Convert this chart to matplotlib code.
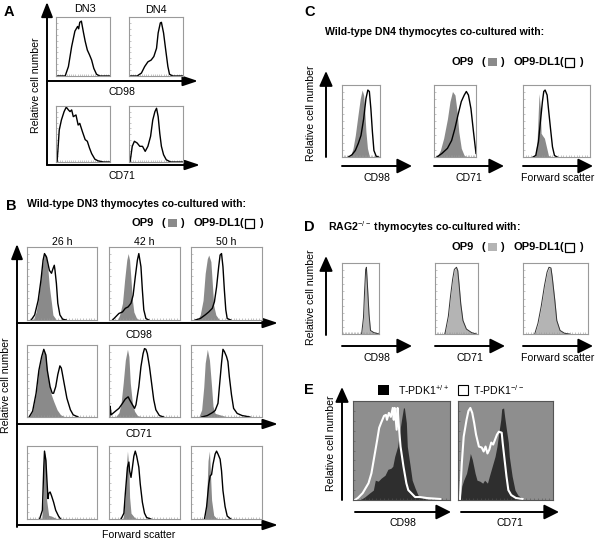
import matplotlib
matplotlib.use("Agg")
import matplotlib.pyplot as plt
from matplotlib.patches import Rectangle

plt.rcParams['font.family'] = ['Liberation Sans', 'DejaVu Sans']
plt.rcParams['mathtext.fontset'] = 'custom'
plt.rcParams['mathtext.rm'] = 'Liberation Sans'
plt.rcParams['mathtext.bf'] = 'Liberation Sans:bold'

# ---- data: channel (0-100) and relative cell number (% of box height) ----
# A
a_dn3_cd98_x = [0, 17, 23, 29, 35, 40, 42, 44, 47, 51, 54, 58, 62, 66, 70, 75, 81, 100]
a_dn3_cd98_y = [0, 0, 16, 50, 76, 84, 80, 91, 93, 73, 59, 44, 36, 27, 13, 3, 0, 0]
a_dn4_cd98_x = [0, 15, 23, 29, 35, 41, 46, 51, 54, 58, 60, 64, 68, 72, 75, 81, 100]
a_dn4_cd98_y = [0, 0, 5, 16, 24, 27, 33, 47, 73, 90, 91, 73, 44, 16, 3, 0, 0]
a_dn3_cd71_x = [0, 2, 4, 6, 10, 15, 19, 23, 26, 29, 32, 37, 41, 44, 49, 54, 58, 62, 66, 72, 78, 88, 100]
a_dn3_cd71_y = [0, 0, 28, 57, 75, 90, 98, 93, 90, 93, 81, 84, 66, 69, 54, 40, 37, 25, 15, 5, 2, 0, 0]
a_dn4_cd71_x = [0, 2, 6, 10, 15, 20, 25, 30, 35, 40, 44, 48, 51, 54, 57, 60, 64, 69, 77, 100]
a_dn4_cd71_y = [0, 0, 28, 37, 34, 28, 28, 19, 28, 46, 75, 90, 96, 81, 51, 28, 13, 4, 0, 0]

# B, CD98
b26_cd98_op9_x = [9, 13, 17, 20, 23, 25, 27, 30, 32, 35, 37, 42]
b26_cd98_op9_y = [0, 11, 32, 59, 80, 91, 89, 68, 45, 23, 7, 0]
b26_cd98_dl1_x = [6, 11, 16, 20, 23, 25, 28, 30, 32, 35, 37, 39, 40, 42, 44, 47, 51, 56]
b26_cd98_dl1_y = [0, 7, 27, 55, 82, 91, 86, 77, 68, 64, 70, 75, 68, 50, 23, 7, 1, 0]
b42_cd98_op9_x = [12, 15, 19, 22, 25, 27, 29, 31, 33, 35, 39, 45]
b42_cd98_op9_y = [0, 7, 23, 55, 82, 91, 82, 55, 27, 11, 2, 0]
b42_cd98_dl1_x = [5, 9, 14, 19, 23, 27, 31, 34, 37, 40, 42, 45, 47, 49, 52, 56]
b42_cd98_dl1_y = [0, 4, 9, 11, 16, 18, 23, 34, 59, 82, 91, 73, 41, 14, 2, 0]
b50_cd98_op9_x = [9, 13, 17, 20, 23, 25, 28, 30, 32, 35, 40]
b50_cd98_op9_y = [0, 7, 27, 64, 84, 89, 80, 50, 20, 7, 0]
b50_cd98_dl1_x = [6, 13, 20, 25, 30, 33, 36, 39, 41, 43, 45, 47, 49, 51, 56]
b50_cd98_dl1_y = [0, 2, 7, 11, 16, 25, 45, 73, 89, 91, 73, 41, 14, 2, 0]

# B, CD71
b26_cd71_op9_x = [3, 8, 13, 17, 21, 24, 27, 29, 34, 38, 43, 48, 55]
b26_cd71_op9_y = [0, 8, 33, 65, 84, 93, 84, 61, 33, 22, 10, 3, 0]
b26_cd71_dl1_x = [3, 8, 13, 17, 21, 24, 27, 29, 33, 36, 38, 41, 44, 47, 49, 50, 53, 57, 62, 66, 73]
b26_cd71_dl1_y = [0, 8, 33, 65, 84, 94, 86, 65, 42, 33, 33, 42, 59, 71, 68, 63, 47, 26, 10, 3, 0]
b42_cd71_op9_x = [9, 14, 17, 20, 23, 26, 28, 30, 33, 36, 40, 47]
b42_cd71_op9_y = [0, 6, 19, 47, 79, 94, 84, 47, 19, 8, 2, 0]
b42_cd71_dl1_x = [1, 1.5, 3, 9, 14, 19, 23, 27, 29, 33, 36, 38, 42, 45, 48, 50, 52, 54, 57, 60, 63, 66, 71, 77]
b42_cd71_dl1_y = [0, 15, 3, 8, 12, 19, 25, 28, 24, 17, 12, 17, 42, 70, 88, 95, 94, 88, 70, 47, 24, 10, 2, 0]
b50_cd71_op9_x = [11, 15, 18, 20, 23, 26, 29, 31, 34, 41, 48, 55]
b50_cd71_op9_y = [0, 10, 42, 75, 94, 79, 42, 15, 5, 3, 1, 0]
b50_cd71_dl1_x = [15, 23, 30, 34, 38, 40, 43, 45, 47, 50, 52, 54, 57, 60, 65, 72, 83]
b50_cd71_dl1_y = [0, 2, 6, 9, 19, 42, 75, 94, 91, 84, 77, 56, 31, 12, 5, 2, 0]

# B, forward scatter
b26_fs_op9_x = [21, 23, 24, 26, 27, 28, 31, 35, 39, 44]
b26_fs_op9_y = [0, 26, 80, 91, 80, 26, 5, 4, 2, 0]
b26_fs_dl1_x = [18, 22, 24, 25, 27, 29, 30, 31, 33, 35, 38, 41, 45, 48]
b26_fs_dl1_y = [0, 12, 71, 93, 80, 44, 28, 35, 37, 32, 23, 12, 4, 0]
b42_fs_op9_x = [20, 23, 25, 26, 28, 29, 31, 36, 40]
b42_fs_op9_y = [0, 30, 80, 93, 71, 30, 8, 2, 0]
b42_fs_dl1_x = [17, 21, 23, 26, 28, 29, 31, 33, 35, 37, 39, 42, 44, 47, 50, 53, 59]
b42_fs_dl1_y = [0, 8, 35, 71, 78, 66, 57, 71, 86, 93, 86, 71, 48, 23, 8, 2, 0]
b50_fs_op9_x = [20, 22, 24, 26, 27, 29, 32, 37]
b50_fs_op9_y = [0, 26, 80, 93, 71, 26, 5, 0]
b50_fs_dl1_x = [19, 22, 25, 27, 29, 31, 34, 36, 38, 41, 43, 45, 48, 51, 56]
b50_fs_dl1_y = [0, 17, 48, 59, 61, 75, 89, 93, 89, 82, 66, 39, 17, 4, 0]

# C
c_cd98_op9_x = [22, 29, 35, 42, 48, 53, 57, 60, 63, 67, 72, 78]
c_cd98_op9_y = [0, 12, 30, 58, 81, 93, 86, 63, 35, 12, 1, 0]
c_cd98_dl1_x = [17, 26, 35, 43, 50, 57, 63, 68, 72, 76, 80, 84, 90, 96]
c_cd98_dl1_y = [0, 3, 9, 19, 30, 53, 81, 93, 91, 67, 35, 9, 1, 0]
c_cd71_op9_x = [7, 15, 23, 32, 38, 44, 50, 55, 59, 65, 72, 82]
c_cd71_op9_y = [0, 9, 26, 53, 77, 91, 86, 63, 35, 12, 2, 0]
c_cd71_dl1_x = [7, 19, 32, 42, 50, 57, 65, 72, 77, 82, 88, 94, 100]
c_cd71_dl1_y = [0, 5, 12, 23, 40, 58, 77, 86, 91, 86, 67, 35, 5]
c_fs_op9_x = [18, 21, 23, 24, 26, 27, 29, 32, 35, 38, 44]
c_fs_op9_y = [0, 21, 67, 88, 67, 33, 30, 26, 14, 2, 0]
c_fs_dl1_x = [15, 19, 23, 26, 29, 31, 33, 36, 38, 41, 44, 47, 51]
c_fs_dl1_y = [0, 2, 21, 49, 77, 91, 93, 86, 67, 40, 14, 2, 0]

# D
d_cd98_op9_x = [53, 58, 61, 64, 66, 69, 73, 77, 86, 93, 100]
d_cd98_op9_y = [0, 24, 62, 90, 93, 67, 29, 5, 2, 1, 0]
d_cd98_dl1_x = [53, 58, 61, 64, 66, 69, 73, 77, 86, 93, 100]
d_cd98_dl1_y = [0, 23, 60, 91, 94, 66, 28, 5, 2, 1, 0]
d_cd71_op9_x = [23, 31, 36, 41, 45, 50, 53, 56, 60, 65, 73, 85, 96]
d_cd71_op9_y = [0, 24, 52, 76, 90, 94, 90, 71, 43, 19, 7, 2, 0]
d_cd71_dl1_x = [23, 31, 36, 41, 45, 50, 53, 56, 60, 65, 73, 85, 96]
d_cd71_dl1_y = [0, 25, 53, 77, 91, 94, 89, 70, 42, 19, 7, 2, 0]
d_fs_op9_x = [18, 23, 28, 33, 37, 40, 43, 45, 49, 52, 57, 64, 72]
d_fs_op9_y = [0, 14, 38, 67, 86, 93, 93, 81, 48, 19, 5, 1, 0]
d_fs_dl1_x = [18, 23, 28, 33, 37, 40, 43, 45, 49, 52, 57, 64, 72]
d_fs_dl1_y = [0, 15, 39, 68, 87, 94, 93, 80, 47, 19, 5, 1, 0]

# E
e_cd98_wt_x = [7, 12, 17, 21, 23, 26, 29, 33, 36, 39, 41, 43, 46, 48, 50, 52, 53, 55, 56, 59, 61, 64, 67, 72, 78]
e_cd98_wt_y = [0, 3, 7, 10, 20, 19, 22, 25, 31, 32, 34, 44, 54, 68, 81, 93, 93, 78, 54, 34, 20, 12, 5, 2, 0]
e_cd98_ko_x = [2, 5, 10, 16, 19, 22, 25, 27, 29, 32, 34, 35, 37, 39, 41, 42, 43, 45, 46, 47, 49, 52, 55, 57, 60, 64, 69, 76, 90]
e_cd98_ko_y = [0, 2, 7, 17, 27, 44, 61, 73, 78, 85, 86, 81, 88, 84, 93, 81, 93, 71, 93, 78, 54, 34, 17, 10, 7, 3, 3, 2, 1]
e_cd71_wt_x = [2, 4, 6, 9, 12, 13, 15, 18, 20, 23, 26, 28, 31, 33, 36, 39, 41, 43, 45, 46, 48, 49, 51, 53, 54, 57, 60, 63, 67, 70]
e_cd71_wt_y = [0, 14, 20, 27, 41, 47, 41, 27, 20, 19, 17, 20, 17, 24, 34, 44, 54, 68, 81, 92, 93, 85, 71, 58, 44, 24, 10, 5, 2, 0]
e_cd71_ko_x = [2, 4, 6, 9, 11, 13, 15, 17, 19, 22, 25, 27, 29, 31, 33, 35, 37, 39, 41, 43, 46, 47, 49, 51, 53, 56, 61, 68]
e_cd71_ko_y = [0, 37, 64, 81, 90, 93, 88, 78, 66, 54, 53, 49, 54, 47, 51, 58, 56, 61, 66, 69, 68, 58, 41, 24, 10, 5, 2, 1]

GRAY = '#8a8a8a'
LIGHT = '#b4b4b4'
E_BG = '#8e8e8e'
E_DARK = '#2e2e2e'
LBL = 7.6
BOLD = 7.6
LEG = 8.0

W, H = 596, 540
fig = plt.figure(figsize=(W / 100, H / 100), dpi=100)
ov = fig.add_axes([0, 0, 1, 1])
ov.set_xlim(0, W)
ov.set_ylim(H, 0)
ov.axis('off')


def box(x0, x1, y0, y1, bg='white', edge='#9a9a9a'):
    ax = fig.add_axes([x0 / W, 1 - y1 / H, (x1 - x0) / W, (y1 - y0) / H])
    ax.set_xlim(0, 100)
    ax.set_ylim(0, 100)
    ax.set_facecolor(bg)
    for s in ax.spines.values():
        s.set_color(edge)
        s.set_linewidth(0.8)
    ax.set_xticks(range(0, 101, 4))
    ax.set_yticks(range(0, 101, 10))
    ax.tick_params(direction='in', length=1.5, width=0.4, colors=edge,
                   labelbottom=False, labelleft=False)
    return ax


def hist(ax, fx, fy, lx, ly, fill=GRAY, line='k', lw=1.0):
    ax.fill_between(fx, fy, color=fill, lw=0)
    ax.plot(lx, ly, color=line, lw=lw)


def arrow(x0, y0, x1, y1, lw=1.4, hl=0.9, hw=0.35):
    ov.annotate('', xy=(x1, y1), xytext=(x0, y0),
                arrowprops=dict(arrowstyle='-|>,head_length=%s,head_width=%s' % (hl, hw),
                                lw=lw, color='k', shrinkA=0, shrinkB=0, mutation_scale=10))


def txt(x, y, s, size=LBL, **kw):
    ov.text(x, y, s, fontsize=size, ha=kw.pop('ha', 'center'), va=kw.pop('va', 'center'), **kw)


def op9_legend(x, y, fill):
    txt(x, y, 'OP9', LEG, weight='bold', ha='left')
    txt(x + 33, y, '(', LEG, weight='bold', ha='right')
    ov.add_patch(Rectangle((x + 36, y - 4), 9, 8, fc=fill, ec='none'))
    txt(x + 48, y, ')', LEG, weight='bold', ha='left')
    txt(x + 112, y, 'OP9-DL1(', LEG, weight='bold', ha='right')
    ov.add_patch(Rectangle((x + 113, y - 4.5), 9, 9, fc='white', ec='k', lw=0.9))
    txt(x + 127, y, ')', LEG, weight='bold', ha='left')


# ---------------- A ----------------
txt(4, 12, 'A', 10.5, weight='bold', ha='left')
txt(85, 9, 'DN3', 7.8)
txt(156, 10, 'DN4', 7.8)
arrow(47, 165, 47, 2)
arrow(47, 81, 198, 81, hw=0.3)
arrow(47, 165, 200, 165, hw=0.3)
txt(122, 92, 'CD98')
txt(122, 176, 'CD71')
txt(36, 85, 'Relative cell number', rotation=90)
for (x0, x1), (y0, y1), xs, ys in [
        ((56, 110), (17, 76), a_dn3_cd98_x, a_dn3_cd98_y),
        ((129, 183), (17, 76), a_dn4_cd98_x, a_dn4_cd98_y),
        ((56, 110), (106, 162), a_dn3_cd71_x, a_dn3_cd71_y),
        ((129, 183), (106, 162), a_dn4_cd71_x, a_dn4_cd71_y)]:
    ax = box(x0, x1, y0, y1)
    ax.plot(xs, ys, color='k', lw=1.0)

# ---------------- B ----------------
txt(6, 206, 'B', 10.5, weight='bold', ha='left')
txt(27, 204, 'Wild-type DN3 thymocytes co-cultured with:', BOLD, weight='bold', ha='left')
op9_legend(132, 223, GRAY)
b_cols = [(27, 97), (109, 180), (191, 262)]
b_rows = [(247, 320), (345, 417), (446, 519)]
for (x0, x1), s in zip(b_cols, ['26 h', '42 h', '50 h']):
    txt((x0 + x1) / 2, 242, s, 7.6)
arrow(17, 527, 17, 244)
for y, s, ty in [(323, 'CD98', 335), (424, 'CD71', 434), (525, 'Forward scatter', 535)]:
    arrow(17, y, 278, y, hw=0.3)
    txt(139, ty, s)
txt(6, 385, 'Relative cell number', rotation=90)
b_data = [
    [(b26_cd98_op9_x, b26_cd98_op9_y, b26_cd98_dl1_x, b26_cd98_dl1_y),
     (b42_cd98_op9_x, b42_cd98_op9_y, b42_cd98_dl1_x, b42_cd98_dl1_y),
     (b50_cd98_op9_x, b50_cd98_op9_y, b50_cd98_dl1_x, b50_cd98_dl1_y)],
    [(b26_cd71_op9_x, b26_cd71_op9_y, b26_cd71_dl1_x, b26_cd71_dl1_y),
     (b42_cd71_op9_x, b42_cd71_op9_y, b42_cd71_dl1_x, b42_cd71_dl1_y),
     (b50_cd71_op9_x, b50_cd71_op9_y, b50_cd71_dl1_x, b50_cd71_dl1_y)],
    [(b26_fs_op9_x, b26_fs_op9_y, b26_fs_dl1_x, b26_fs_dl1_y),
     (b42_fs_op9_x, b42_fs_op9_y, b42_fs_dl1_x, b42_fs_dl1_y),
     (b50_fs_op9_x, b50_fs_op9_y, b50_fs_dl1_x, b50_fs_dl1_y)]]
for (y0, y1), row in zip(b_rows, b_data):
    for (x0, x1), curves in zip(b_cols, row):
        hist(box(x0, x1, y0, y1), *curves)

# ---------------- C ----------------
txt(304, 12, 'C', 10.5, weight='bold', ha='left')
txt(325, 32, 'Wild-type DN4 thymocytes co-cultured with:', BOLD, weight='bold', ha='left')
op9_legend(452, 62, GRAY)
arrow(326, 157, 326, 71, hw=0.4)
txt(311, 113, 'Relative cell number', rotation=90)
c_boxes = [(342, 380), (434, 476), (523, 590)]
c_arrows = [(342, 412), (434, 504), (523, 593)]
c_data = [(c_cd98_op9_x, c_cd98_op9_y, c_cd98_dl1_x, c_cd98_dl1_y),
          (c_cd71_op9_x, c_cd71_op9_y, c_cd71_dl1_x, c_cd71_dl1_y),
          (c_fs_op9_x, c_fs_op9_y, c_fs_dl1_x, c_fs_dl1_y)]
for (x0, x1), (a0, a1), s, curves in zip(c_boxes, c_arrows, ['CD98', 'CD71', 'Forward scatter'], c_data):
    hist(box(x0, x1, 85, 157), *curves)
    arrow(a0, 166, a1, 166, hw=0.45)
    txt((a0 + a1) / 2, 178, s)

# ---------------- D ----------------
txt(304, 227, 'D', 10.5, weight='bold', ha='left')
txt(328, 227, r'RAG2$^{-/-}$ thymocytes co-cultured with:', BOLD, weight='bold', ha='left')
op9_legend(452, 247, LIGHT)
arrow(326, 335, 326, 256, hw=0.4)
txt(311, 297, 'Relative cell number', rotation=90)
d_boxes = [(342, 379), (435, 478), (523, 588)]
d_arrows = [(342, 412), (435, 505), (523, 593)]
d_data = [(d_cd98_op9_x, d_cd98_op9_y, d_cd98_dl1_x, d_cd98_dl1_y),
          (d_cd71_op9_x, d_cd71_op9_y, d_cd71_dl1_x, d_cd71_dl1_y),
          (d_fs_op9_x, d_fs_op9_y, d_fs_dl1_x, d_fs_dl1_y)]
for (x0, x1), (a0, a1), s, curves in zip(d_boxes, d_arrows, ['CD98', 'CD71', 'Forward scatter'], d_data):
    hist(box(x0, x1, 263, 334), *curves, fill=LIGHT, line='#333333', lw=0.7)
    arrow(a0, 346, a1, 346, hw=0.45)
    txt((a0 + a1) / 2, 358, s)

# ---------------- E ----------------
txt(304, 390, 'E', 10.5, weight='bold', ha='left')
ov.add_patch(Rectangle((378, 385), 11, 10, fc='black', ec='none'))
txt(398, 390, r'T-PDK1$^{+/+}$', ha='left')
ov.add_patch(Rectangle((458, 385), 10, 10, fc='white', ec='k', lw=0.8))
txt(473, 390, r'T-PDK1$^{-/-}$', ha='left')
arrow(342, 500, 342, 387, hw=0.4)
txt(331, 443, 'Relative cell number', rotation=90)
e_boxes = [(353, 450), (458, 553)]
e_arrows = [(355, 451), (461, 559)]
e_data = [(e_cd98_wt_x, e_cd98_wt_y, e_cd98_ko_x, e_cd98_ko_y),
          (e_cd71_wt_x, e_cd71_wt_y, e_cd71_ko_x, e_cd71_ko_y)]
for (x0, x1), (a0, a1), s, curves in zip(e_boxes, e_arrows, ['CD98', 'CD71'], e_data):
    ax = box(x0, x1, 401, 500, bg=E_BG, edge='#555555')
    hist(ax, *curves, fill=E_DARK, line='white', lw=1.5)
    arrow(a0, 512, a1, 512, hw=0.45)
    txt((a0 + a1) / 2, 523, s)

fig.savefig('out.png', dpi=100)
